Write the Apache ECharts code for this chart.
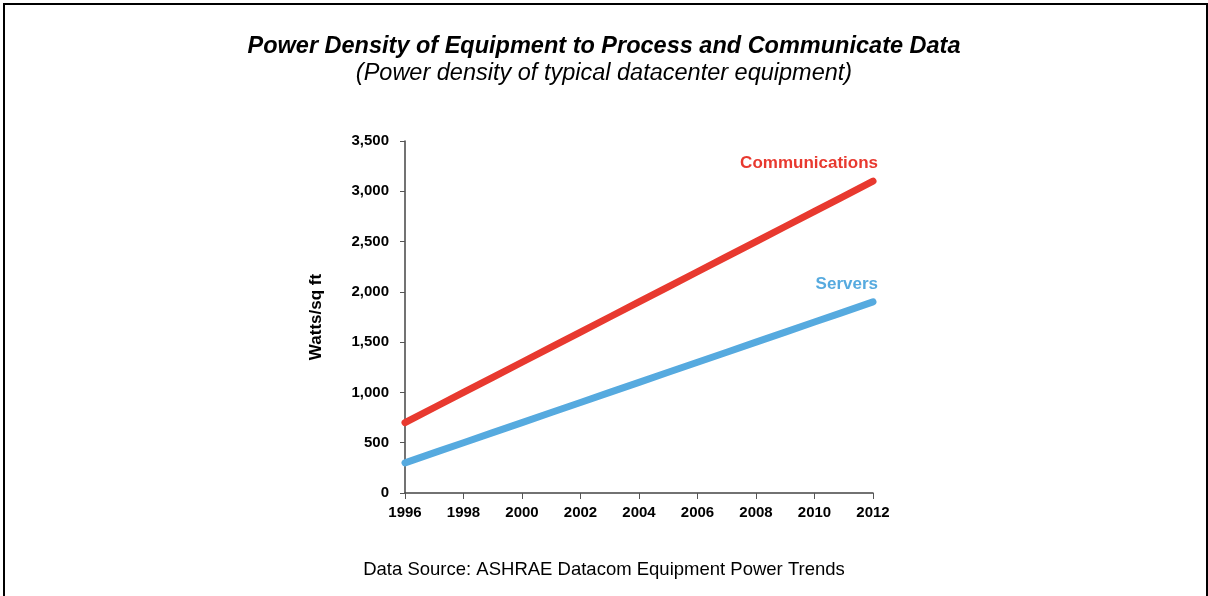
<!DOCTYPE html>
<html>
<head>
<meta charset="utf-8">
<script src="https://cdn.jsdelivr.net/npm/echarts@6/dist/echarts.min.js"></script>
<style>
  html, body { margin: 0; padding: 0; background: #fff; }
  #chart { width: 1208px; height: 596px; }
</style>
</head>
<body>
<div id="chart"></div>
<script>
// values
const years = [1996, 1998, 2000, 2002, 2004, 2006, 2008, 2010, 2012];
const communications = [700, 1000, 1300, 1600, 1900, 2200, 2500, 2800, 3100];
const servers = [300, 500, 700, 900, 1100, 1300, 1500, 1700, 1900];

const RED = '#e8392f';
const BLUE = '#56aadf';
const FONT = '"Liberation Sans", Arial, sans-serif';

// label only the last point, right-aligned above the line end
function toPairs(ys, name, color) {
  return ys.map(function (v, i) {
    const item = { value: [years[i], v] };
    if (i === ys.length - 1) {
      item.label = {
        show: true,
        formatter: name,
        position: 'top',
        align: 'right',
        offset: [5, -4],
        color: color,
        fontFamily: FONT,
        fontWeight: 'bold',
        fontSize: 17
      };
    }
    return item;
  });
}

const myChart = echarts.init(document.getElementById('chart'), null, { renderer: 'canvas' });

const option = {
  animation: false,
  title: [
    {
      text: 'Power Density of Equipment to Process and Communicate Data',
      subtext: '(Power density of typical datacenter equipment)',
      left: 'center',
      top: 30,
      itemGap: 4,
      textStyle: { fontFamily: FONT, fontSize: 23.5, fontWeight: 'bold', fontStyle: 'italic', color: '#000' },
      subtextStyle: { fontFamily: FONT, fontSize: 23.5, fontStyle: 'italic', color: '#000' }
    },
    {
      text: 'Data Source: ASHRAE Datacom Equipment Power Trends',
      left: 'center',
      top: 555,
      textStyle: { fontFamily: FONT, fontSize: 18.5, fontWeight: 'normal', color: '#000' }
    }
  ],
  graphic: [
    {
      type: 'rect',
      shape: { x: 4, y: 4, width: 1203, height: 640 },
      style: { fill: 'none', stroke: '#000', lineWidth: 2 },
      silent: true
    }
  ],
  grid: { left: 405, right: 335, top: 141, bottom: 103 },
  xAxis: {
    type: 'value',
    min: 1996,
    max: 2012,
    interval: 2,
    splitLine: { show: false },
    axisLine: { lineStyle: { color: '#444', width: 1.5 } },
    axisTick: { length: 6, lineStyle: { color: '#555' } },
    axisLabel: {
      formatter: function (v) { return String(v); },
      color: '#000', fontFamily: FONT, fontWeight: 'bold', fontSize: 15, margin: 12
    }
  },
  yAxis: {
    type: 'value',
    min: 0,
    max: 3500,
    interval: 500,
    name: 'Watts/sq ft',
    nameLocation: 'middle',
    nameRotate: 90,
    nameGap: 80,
    nameTextStyle: { color: '#000', fontFamily: FONT, fontWeight: 'bold', fontSize: 17 },
    splitLine: { show: false },
    axisLine: { show: true, lineStyle: { color: '#444', width: 1.5 } },
    axisTick: { show: true, length: 5, lineStyle: { color: '#555' } },
    axisLabel: { color: '#000', fontFamily: FONT, fontWeight: 'bold', fontSize: 15, margin: 16 }
  },
  series: [
    {
      name: 'Communications',
      type: 'line',
      smooth: 0.3,
      showSymbol: true,
      symbolSize: 0,
      lineStyle: { color: RED, width: 7, cap: 'round' },
      itemStyle: { color: RED },
      data: toPairs(communications, 'Communications', RED)
    },
    {
      name: 'Servers',
      type: 'line',
      smooth: 0.3,
      showSymbol: true,
      symbolSize: 0,
      lineStyle: { color: BLUE, width: 7, cap: 'round' },
      itemStyle: { color: BLUE },
      data: toPairs(servers, 'Servers', BLUE)
    }
  ]
};

myChart.setOption(option);
window.onresize = function () {
  myChart.resize();
};
</script>
</body>
</html>
